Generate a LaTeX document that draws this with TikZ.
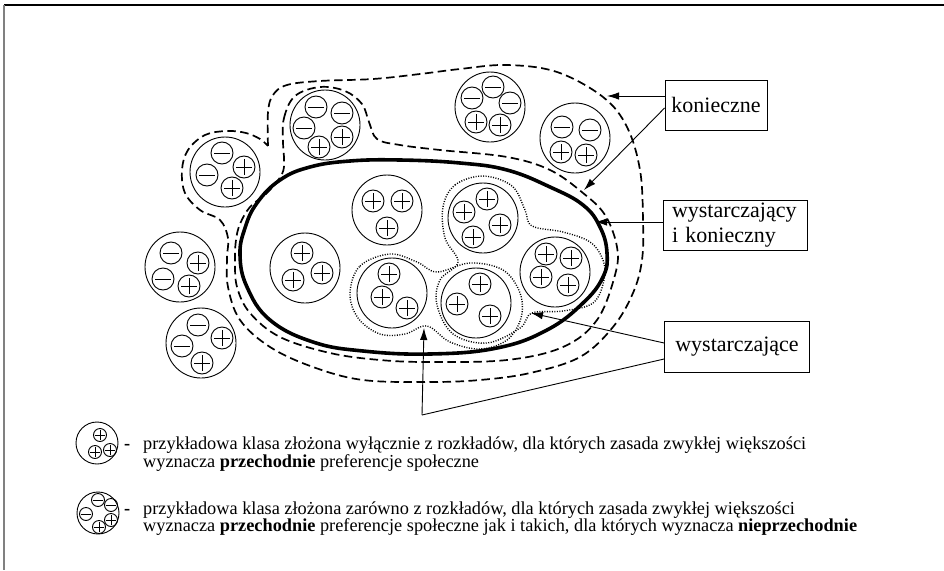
\documentclass[tikz,border=0pt]{standalone}
\usepackage{fontspec}
\setmainfont{Liberation Serif}
\usetikzlibrary{arrows.meta}
\newcommand\Pc[3]{\draw[cl] (#1,#2) circle[radius=#3pt];
  \draw[cl] (#1,#2) ++(-0.72*#3pt,0pt) -- ++(1.44*#3pt,0pt);
  \draw[cl] (#1,#2) ++(0pt,-0.72*#3pt) -- ++(0pt,1.44*#3pt);}
\newcommand\Mc[3]{\draw[cl] (#1,#2) circle[radius=#3pt];
  \draw[cl] (#1,#2) ++(-0.72*#3pt,0pt) -- ++(1.44*#3pt,0pt);}
\begin{document}
\begin{tikzpicture}[x=1pt,y=-1pt,
  cl/.style={line width=0.9pt},
  thickell/.style={line width=3.6pt},
  dsh/.style={line width=1.7pt, dash pattern=on 8.5pt off 4.5pt},
  dotl/.style={line width=1.4pt, dash pattern=on 1pt off 1.5pt},
  lab/.style={draw, line width=0.9pt, font=\fontsize{22}{25}\selectfont, inner sep=0pt},
  arr/.style={line width=0.9pt, -{Latex[length=12pt,width=7.5pt]}},
  ln/.style={line width=0.9pt},
  leg/.style={font=\fontsize{18.3}{20}\selectfont, anchor=base west, inner sep=0pt}]
\useasboundingbox (0,0) rectangle (944,570);
% frame
\draw[line width=1.3pt] (4,5) -- (944,5);
\draw[line width=1.3pt, black!50] (4,5) -- (4,570);

% thick ellipse
\draw[thickell] plot[smooth cycle, tension=0.7] coordinates {
 (240,255) (247,287) (270,320) (313,342) (363,351) (430,354) (497,348)
 (547,330) (583,303) (603,277) (607,253) (600,227) (583,205) (550,187)
 (507,170) (460,163) (400,160) (350,161) (310,167) (280,180) (257,203) (245,228)};

% inner dashed (D1)
\draw[dsh] plot[smooth cycle, tension=0.6] coordinates {
 (283,142) (284,118) (295,96) (320,87) (345,91) (362,104) (369,122) (377,139)
 (400,145) (440,150) (507,157) (550,170) (583,193) (605,215) (617,247)
 (615,275) (597,320) (563,347) (507,360) (430,362) (380,360) (330,353)
 (280,337) (250,313) (237,287) (235,260) (236,240) (240,224) (250,207) (268,192) (282,174) (284,160)};

% outer dashed (D2)
\draw[dsh] plot[smooth, tension=0.6] coordinates {
 (268,146) (268,112) (273,95) (287,85) (320,81) (373,79) (420,74) (460,69)
 (507,65) (557,72) (603,97) (627,127) (640,170) (643,220) (642,260)
 (633,293) (613,327) (580,357) (530,373) (480,380) (430,382) (363,380)
 (313,367) (270,347) (240,320) (228,287) (227,258) (228,238) (220,220)
 (200,210) (185,193) (182,170) (188,150) (205,135) (227,131) (246,133) (260,139) (268,146)};

% dotted loops
\draw[dotl] plot[smooth cycle, tension=0.6] coordinates {
 (443,207) (455,185) (483,176) (512,186) (525,210) (532,226) (563,232)
 (590,242) (603,260) (604,280) (593,303) (563,311) (532,313) (520,328)
 (487,343) (453,334) (437,305) (440,280) (458,262) (445,238)};
\draw[dotl] plot[smooth cycle, tension=0.6] coordinates {
 (350,293) (360,266) (390,254) (417,262) (437,272) (470,263) (503,270)
 (520,293) (521,318) (507,340) (480,349) (450,342) (427,326) (405,334)
 (380,334) (358,318)};

% clusters
\draw[cl] (225,172) circle[radius=35pt];
\Mc{222}{153}{11}\Pc{244}{167}{11}\Mc{207}{175}{11}\Pc{232}{188}{11}

\draw[cl] (325,125) circle[radius=35pt];
\Mc{316}{107}{11}\Mc{342}{113}{11}\Mc{304}{128}{11}\Pc{342}{137}{11}\Pc{319}{147}{11}

\draw[cl] (490,107) circle[radius=35pt];
\Mc{493}{87}{11}\Mc{472}{98}{11}\Mc{510}{103}{11}\Pc{476}{122}{11}\Pc{500}{125}{11}

\draw[cl] (575,138) circle[radius=35pt];
\Mc{562}{127}{11}\Mc{590}{130}{11}\Pc{561}{152}{11}\Pc{586}{155}{11}

\draw[cl] (180,267) circle[radius=35pt];
\Mc{171}{253}{11}\Pc{198}{263}{11}\Mc{163}{279}{11}\Pc{189}{286}{11}

\draw[cl] (201,343) circle[radius=35pt];
\Mc{198}{325}{11}\Pc{222}{338}{11}\Mc{182}{346}{11}\Pc{202}{363}{11}

\draw[cl] (305,268) circle[radius=35pt];
\Pc{302}{253}{11}\Pc{293}{280}{11}\Pc{322}{273}{11}

\draw[cl] (387,210) circle[radius=35pt];
\Pc{373}{201}{11}\Pc{402}{201}{11}\Pc{387}{228}{11}

\draw[cl] (483,218) circle[radius=35pt];
\Pc{487}{199}{11}\Pc{464}{212}{11}\Pc{500}{225}{11}\Pc{473}{237}{11}

\draw[cl] (555,272) circle[radius=35pt];
\Pc{546}{254}{11}\Pc{571}{258}{11}\Pc{541}{277}{11}\Pc{568}{285}{11}

\draw[cl] (392,293) circle[radius=35pt];
\Pc{389}{274}{11}\Pc{382}{297}{11}\Pc{407}{308}{11}

\draw[cl] (476,303) circle[radius=35pt];
\Pc{480}{284}{11}\Pc{457}{304}{11}\Pc{490}{316}{11}

% label boxes
\node[lab, minimum width=102pt, minimum height=50pt] (k) at (716,105) {konieczne};
\node[lab, minimum width=144pt, minimum height=50pt, align=left, text width=126pt] (w) at (735,225) {wystarczający\\i konieczny};
\node[lab, minimum width=145pt, minimum height=51pt] (s) at (737,347) {wystarczające};

% arrow targets
\coordinate (tk1) at (607,96);
\coordinate (tk2) at (584,190);
\coordinate (tw) at (595,222);
\coordinate (ts1) at (531,313);
\coordinate (ts2) at (424,328);
\coordinate (bend) at (422,415);

\draw[arr] (k.west |- tk1) -- (tk1);
\draw[arr] ([yshift=-3pt]k.west) -- (tk2);
\draw[arr] (w.west |- tw) -- (tw);
\draw[arr] ([yshift=4pt]s.west) -- (ts1);
\draw[ln] ([yshift=-12pt]s.west) -- (bend);
\draw[arr] (bend) -- (ts2);

% legend
\draw[cl] (97,443) circle[radius=21pt];
\Pc{100}{435}{6.5}\Pc{95}{452}{6.5}\Pc{110}{450}{6.5}
\draw[cl] (98,513) circle[radius=21pt];
\Mc{98}{500}{6.5}\Mc{111}{505}{6.5}\Mc{86}{514}{6.5}\Pc{111}{520}{6.5}\Pc{99}{527}{6.5}

\node[leg] (d1) at (124,449) {\textbf{-}};
\node[leg] (l1) at (143,449) {przykładowa klasa złożona wyłącznie z rozkładów, dla których zasada zwykłej większości};
\node[leg] (l2) at (143,467) {wyznacza \textbf{przechodnie} preferencje społeczne};
\node[leg] (d2) at (124,514) {\textbf{-}};
\node[leg] (l3) at (143,514) {przykładowa klasa złożona zarówno z rozkładów, dla których zasada zwykłej większości};
\node[leg] (l4) at (143,531) {wyznacza \textbf{przechodnie} preferencje społeczne jak i takich, dla których wyznacza \textbf{nieprzechodnie}};
\end{tikzpicture}
\end{document}
